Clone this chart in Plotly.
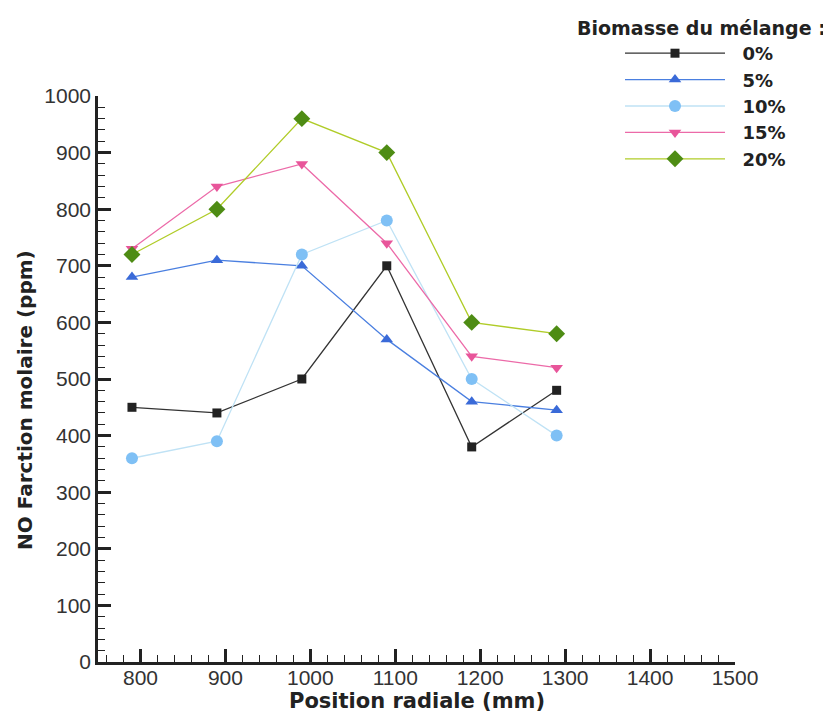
import plotly.graph_objects as go

positions = [790, 890, 990, 1090, 1190, 1290]
series_names = ["0%", "5%", "10%", "15%", "20%"]
no_0 = [450, 440, 500, 700, 380, 480]
no_5 = [680, 710, 700, 570, 460, 445]
no_10 = [360, 390, 720, 780, 500, 400]
no_15 = [730, 840, 880, 740, 540, 520]
no_20 = [720, 800, 960, 900, 600, 580]

styles = [
    dict(line="#333333", marker="#222222", symbol="square", size=9),
    dict(line="#4a7fe0", marker="#3a6ad8", symbol="triangle-up", size=11),
    dict(line="#bfe2f5", marker="#7fc0f5", symbol="circle", size=12),
    dict(line="#ec6aa8", marker="#e8559a", symbol="triangle-down", size=11),
    dict(line="#b0cc28", marker="#4e8c14", symbol="diamond", size=13),
]

fig = go.Figure()
for name, vals, st in zip(series_names, [no_0, no_5, no_10, no_15, no_20], styles):
    fig.add_trace(go.Scatter(
        x=positions, y=vals, name="\u00a0\u00a0" + name, mode="lines+markers",
        line=dict(color=st["line"], width=1.3),
        marker=dict(color=st["marker"], symbol=st["symbol"], size=st["size"],
                    line=dict(width=0)),
    ))

tickfont = dict(family="Liberation Sans, Arial", size=21, color="#333333")
boldfam = "DejaVu Sans, Liberation Sans, Arial"

# page body has an 8px margin; figure sized to fit the window
W, H = 823, 705
L, R, T, B = 90, 96, 88, 51
pw, ph = W - L - R, H - T - B

fig.update_layout(
    width=W, height=H,
    margin=dict(l=L, r=R, t=T, b=B),
    paper_bgcolor="white", plot_bgcolor="white",
    showlegend=True,
    legend=dict(
        x=(612 - L) / pw, y=(H - B - 27) / ph, xanchor="left", yanchor="top",
        font=dict(family=boldfam, size=18, color="#222222", weight="bold"),
        itemwidth=100, bgcolor="rgba(0,0,0,0)", tracegroupgap=0,
    ),
    xaxis=dict(
        range=[750, 1500], tickmode="linear", tick0=800, dtick=100, automargin=False,
        showgrid=False, zeroline=False, showline=True, linecolor="#222222", linewidth=2.5,
        ticks="inside", ticklen=13, tickwidth=2.5, tickcolor="#222222",
        minor=dict(dtick=20, tick0=800, ticks="inside", ticklen=7, tickwidth=1, tickcolor="#222222", showgrid=False),
        tickfont=tickfont, ticklabelstandoff=-5,
    ),
    yaxis=dict(
        range=[0, 1000], tickmode="linear", tick0=0, dtick=100, automargin=False,
        showgrid=False, zeroline=False, showline=True, linecolor="#222222", linewidth=2.5,
        ticks="inside", ticklen=13, tickwidth=2.5, tickcolor="#222222",
        minor=dict(dtick=20, tick0=0, ticks="inside", ticklen=7, tickwidth=1, tickcolor="#222222", showgrid=False),
        tickfont=tickfont,
    ),
    annotations=[
        dict(
            text="<b>Biomasse du mélange :</b>", xref="paper", yref="paper",
            x=(820 - L) / pw, y=(H - B - 20) / ph, xanchor="right", yanchor="middle", showarrow=False,
            font=dict(family=boldfam, size=19, color="#222222"),
        ),
        dict(
            text="<b>NO Farction molaire (ppm)</b>", xref="paper", yref="paper",
            x=(17 - L) / pw, y=(H - B - 392) / ph, xanchor="center", yanchor="middle",
            textangle=-90, showarrow=False,
            font=dict(family=boldfam, size=20, color="#222222"),
        ),
        dict(
            text="<b>Position radiale (mm)</b>", xref="paper", yref="paper",
            x=0.5, y=(H - B - 693) / ph, xanchor="center", yanchor="middle", showarrow=False,
            font=dict(family=boldfam, size=21, color="#222222"),
        ),
    ],
)

fig.write_html("out.html")
